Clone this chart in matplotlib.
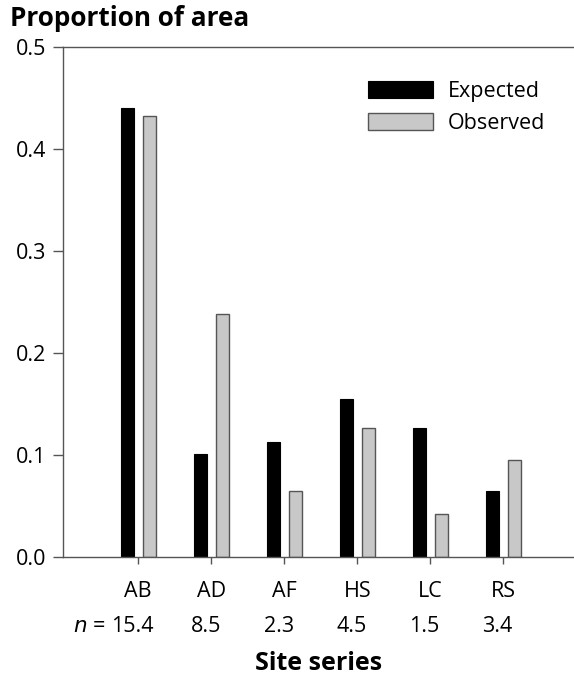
import matplotlib.pyplot as plt
import numpy as np

sites = ['AB', 'AD', 'AF', 'HS', 'LC', 'RS']
expected = [0.440, 0.101, 0.113, 0.155, 0.126, 0.065]
observed = [0.432, 0.238, 0.065, 0.126, 0.042, 0.095]
n_values = ['15.4', '8.5', '2.3', '4.5', '1.5', '3.4']

plt.rcParams['font.family'] = ['Open Sans', 'DejaVu Sans']

fig = plt.figure(figsize=(5.74, 6.8), dpi=100)
ax = fig.add_axes([63 / 574, 123 / 680, 511 / 574, 510 / 680])

x = np.arange(len(sites))
w = 0.18
off = 0.15
ax.bar(x - off, expected, w, color='black', edgecolor='black', linewidth=0.8, label='Expected')
ax.bar(x + off, observed, w, color='#c8c8c8', edgecolor='#555555', linewidth=1.0, label='Observed')

ax.set_xlim(-1.03, 5.97)
ax.set_ylim(0, 0.5)
ax.set_yticks([0.0, 0.1, 0.2, 0.3, 0.4, 0.5])
ax.set_yticklabels(['0.0', '0.1', '0.2', '0.3', '0.4', '0.5'])
ax.set_xticks(x)
ax.set_xticklabels(sites)

for s in ['left', 'bottom', 'top']:
    ax.spines[s].set_color('#555555')
    ax.spines[s].set_linewidth(1.0)
ax.spines['right'].set_visible(False)

ax.tick_params(axis='y', length=7, width=1.0, color='#555555', pad=5, labelsize=15.5)
ax.tick_params(axis='x', length=5, width=1.0, color='#555555', pad=12, labelsize=15.5)

# n row under the site labels
for xi, nv in zip(x, n_values):
    ax.annotate(nv, xy=(xi, 0), xycoords=('data', 'axes fraction'),
                xytext=(-4, -50), textcoords='offset points',
                ha='center', va='center', fontsize=15.5)
ax.annotate('$n$ =', xy=(0, 0), xycoords=('data', 'axes fraction'),
            xytext=(-24, -50), textcoords='offset points',
            ha='right', va='center', fontsize=15.5)

fig.text((63 + 574) / 2 / 574, 1 - 664 / 680, 'Site series', fontsize=18,
         fontweight='bold', va='center', ha='center')
fig.text(10 / 574, 1 - 18 / 680, 'Proportion of area', fontsize=18.8,
         fontweight='bold', va='center', ha='left')

ax.legend(loc='upper left', bbox_to_anchor=(0.58, 0.95), frameon=False,
          fontsize=15.5, handlelength=3.0, handleheight=0.8,
          handletextpad=0.7, labelspacing=0.5, borderaxespad=0)

fig.savefig('out.png', dpi=100)
